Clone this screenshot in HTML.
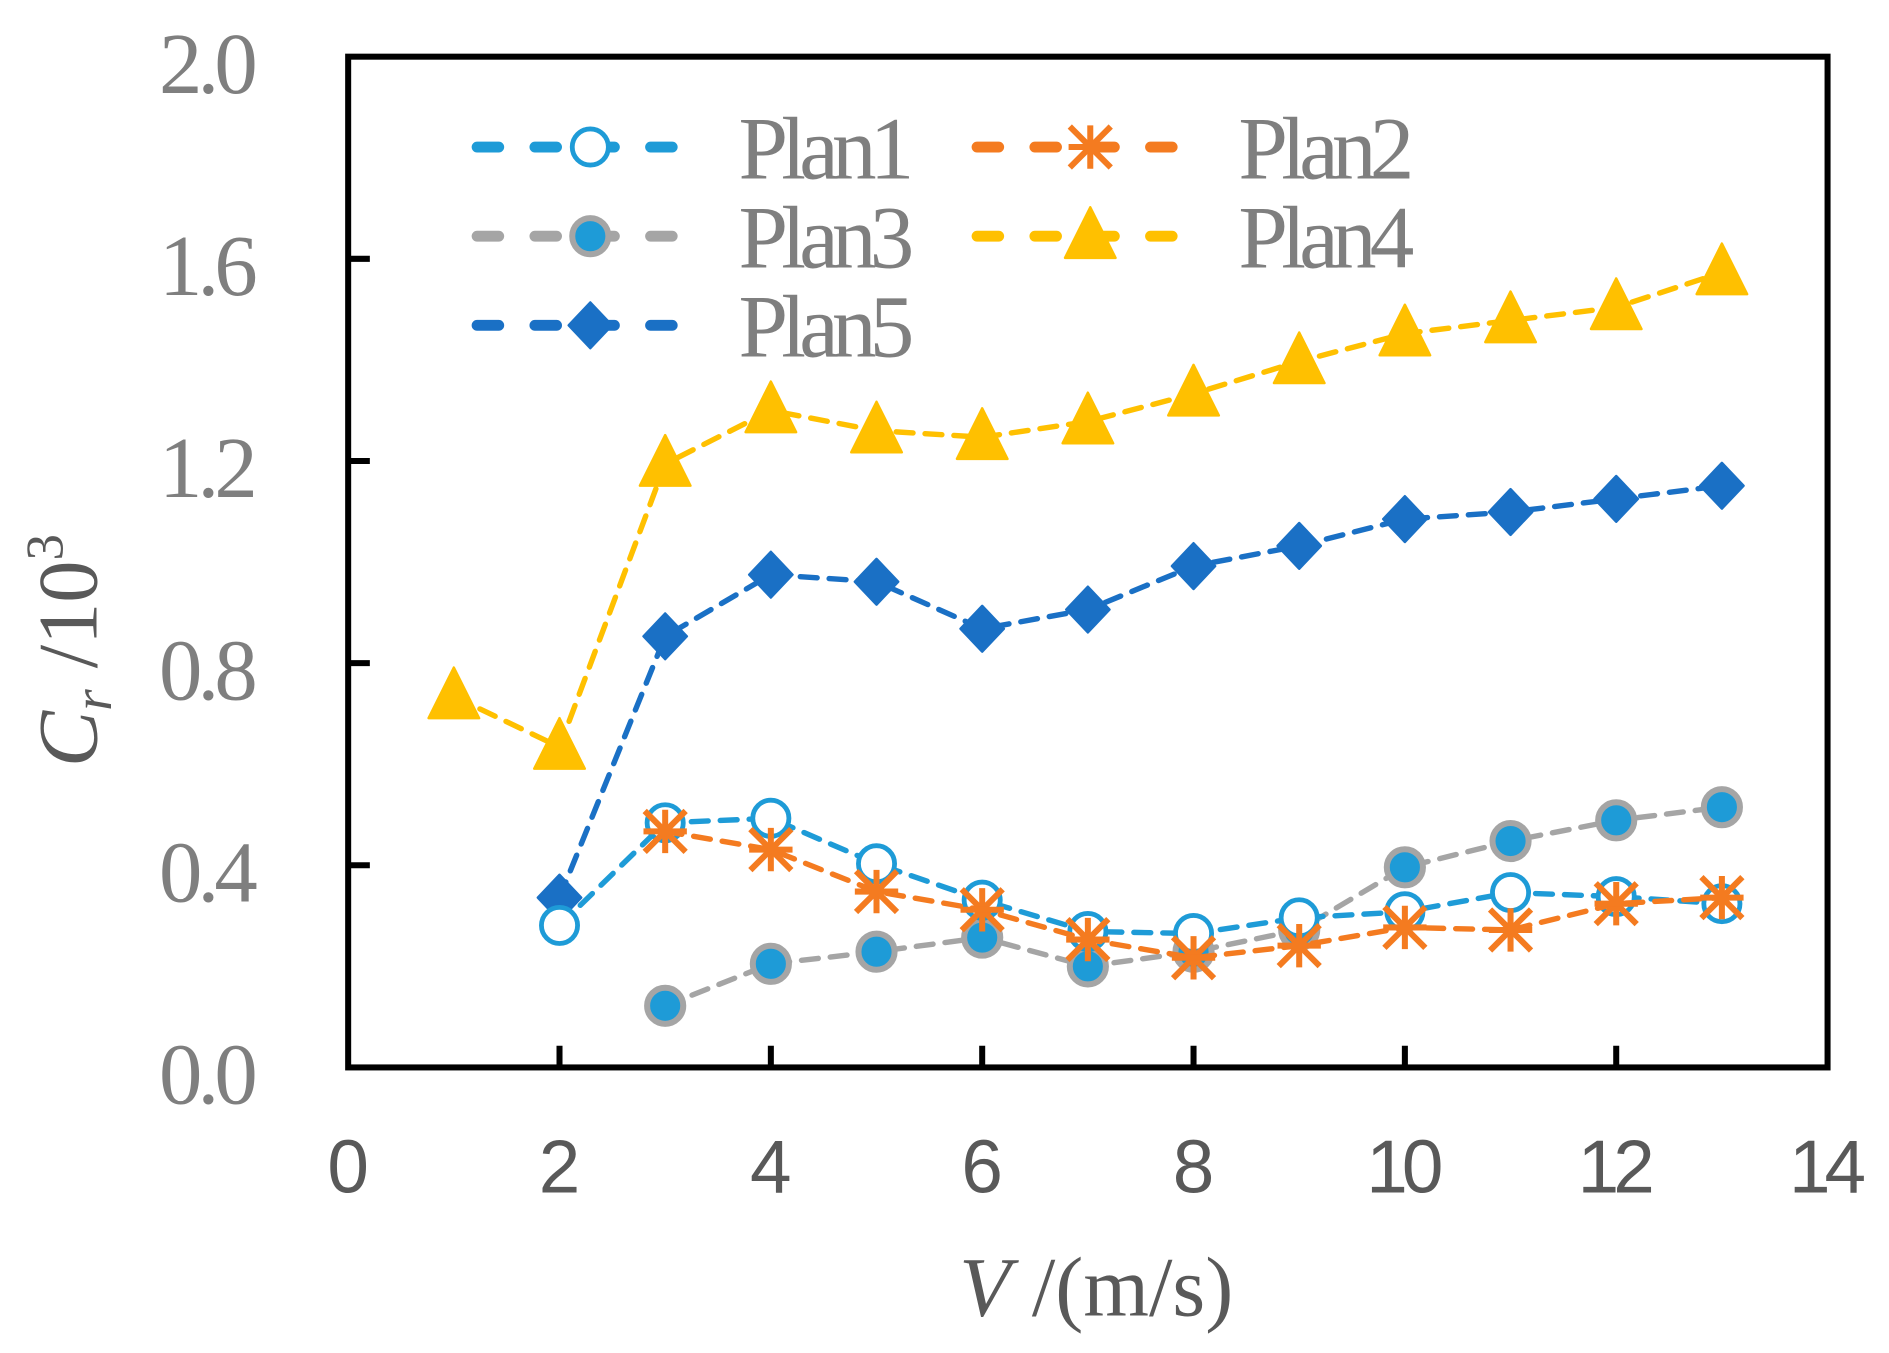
<!DOCTYPE html>
<html><head><meta charset="utf-8"><style>
html,body{margin:0;padding:0;background:#fff;}
svg{display:block;}
</style></head><body>
<svg id="chart" width="1889" height="1353" viewBox="0 0 1568 1123" xmlns="http://www.w3.org/2000/svg">
<rect width="1568" height="1123" fill="#fff"/>
<g id="series"></g>
<rect x="289" y="47" width="1228" height="839" fill="none" stroke="#000" stroke-width="5"/>
<g id="ticks"></g>
<g id="legend"></g>
<text x="910" y="1092" font-family="Liberation Serif, serif" font-size="70" fill="#595959" text-anchor="middle"><tspan font-style="italic">V</tspan> /(m/s)</text>
<text transform="translate(80,540) rotate(-90)" font-family="Liberation Serif, serif" font-size="70" fill="#595959" text-anchor="middle"><tspan font-style="italic">C</tspan><tspan font-style="italic" font-size="46" dy="12">r</tspan><tspan dy="-12"> /10</tspan><tspan font-size="44" dy="-28">3</tspan></text>
</svg>
<script>
const xTicks = [0,2,4,6,8,10,12,14];
const yTicks = [0.0,0.4,0.8,1.2,1.6,2.0];
const yTickLabels = ["0.0","0.4","0.8","1.2","1.6","2.0"];
const plan1X = [2,3,4,5,6,7,8,9,10,11,12,13];
const plan1Y = [0.281,0.484,0.493,0.403,0.331,0.269,0.265,0.296,0.308,0.346,0.338,0.324];
const plan2X = [3,4,5,6,7,8,9,10,11,12,13];
const plan2Y = [0.467,0.431,0.348,0.312,0.253,0.217,0.241,0.277,0.272,0.324,0.336];
const plan3X = [3,4,5,6,7,8,9,10,11,12,13];
const plan3Y = [0.122,0.205,0.229,0.257,0.200,0.229,0.272,0.396,0.448,0.489,0.515];
const plan4X = [1,2,3,4,5,6,7,8,9,10,11,12,13];
const plan4Y = [0.734,0.634,1.194,1.300,1.260,1.247,1.278,1.333,1.397,1.452,1.478,1.504,1.573];
const plan5X = [2,3,4,5,6,7,8,9,10,11,12,13];
const plan5Y = [0.336,0.853,0.975,0.961,0.868,0.906,0.992,1.032,1.085,1.099,1.125,1.151];

const NS="http://www.w3.org/2000/svg";
const X0=289,X1=1517,Y0=886,Y1=47;
const sx=v=>X0+(v-0)/(14-0)*(X1-X0);
const sy=v=>Y0-(v-0)/(2-0)*(Y0-Y1);
function mk(tag,attrs,parent){const e=document.createElementNS(NS,tag);for(const k in attrs)e.setAttribute(k,attrs[k]);parent.appendChild(e);return e;}
const ticks=document.getElementById('ticks');
xTicks.forEach(t=>{
  if(t>0&&t<14){const l=mk('line',{x1:sx(t),x2:sx(t),y1:Y0,y2:Y0-18,stroke:'#000','stroke-width':5},ticks);
  
  }
  const tx=mk('text',{x:sx(t),y:990,'font-family':'Liberation Sans, sans-serif','font-size':62,fill:'#595959','text-anchor':'middle'},ticks);
  
  
  tx.textContent=String(t);
  if(t>=10)tx.setAttribute('textLength','64');
});
yTicks.forEach((t,i)=>{
  if(t>0&&t<2){const l=mk('line',{x1:X0,x2:X0+18,y1:sy(t),y2:sy(t),stroke:'#000','stroke-width':5},ticks);
  
  }
  const tx=mk('text',{x:214,y:sy(t)+30,'font-family':'Liberation Serif, serif','font-size':72,fill:'#7f7f7f','text-anchor':'end',textLength:82},ticks);
  
  
  tx.textContent=yTickLabels[i];
});
function marker(type,cx,cy,color,parent){
  let m;
  if(type==='circle'){m=mk('circle',{cx,cy,r:15,fill:'#fff',stroke:color,'stroke-width':4},parent);}
  else if(type==='star'){m=mk('g',{stroke:color,'stroke-width':5},parent);
    mk('line',{x1:cx,y1:cy-18,x2:cx,y2:cy+18},m);
    mk('line',{x1:cx-17,y1:cy-17,x2:cx+17,y2:cy+17},m);
    mk('line',{x1:cx+17,y1:cy-17,x2:cx-17,y2:cy+17},m);
    mk('line',{x1:cx-18,y1:cy,x2:cx+18,y2:cy},m);}
  else if(type==='filled'){m=mk('circle',{cx,cy,r:15,fill:'#1e9bd7',stroke:'#a5a5a5','stroke-width':5},parent);}
  else if(type==='tri'){m=mk('polygon',{points:`${cx},${cy-24} ${cx+21},${cy+18} ${cx-21},${cy+18}`,fill:color,stroke:color,'stroke-width':2,'stroke-linejoin':'round'},parent);}
  else {m=mk('polygon',{points:`${cx},${cy-19} ${cx+18},${cy} ${cx},${cy+19} ${cx-18},${cy}`,fill:color,stroke:color,'stroke-width':2,'stroke-linejoin':'round'},parent);}
  return m;
}
const series=[
  {n:'plan1',xs:plan1X,ys:plan1Y,c:'#1e9bd7',t:'circle'},
  {n:'plan2',xs:plan2X,ys:plan2Y,c:'#f47b20',t:'star'},
  {n:'plan3',xs:plan3X,ys:plan3Y,c:'#a5a5a5',t:'filled'},
  {n:'plan4',xs:plan4X,ys:plan4Y,c:'#ffc000',t:'tri'},
  {n:'plan5',xs:plan5X,ys:plan5Y,c:'#1a70c5',t:'dia'}
];
const sg=document.getElementById('series');
const order=[3,4,2,0,1];
order.forEach(i=>{const s=series[i];
  const g=mk('g',{},sg);
  
  
  const pts=s.xs.map((x,j)=>sx(x)+','+sy(s.ys[j])).join(' ');
  const pl=mk('polyline',{points:pts,fill:'none',stroke:s.c,'stroke-width':4.5,'stroke-dasharray':'14 10','stroke-linecap':'round'},g);
  
  
  s.xs.forEach((x,j)=>{const m=marker(s.t,sx(x),sy(s.ys[j]),s.c,g);
    
    });
});
const lg=document.getElementById('legend');
const lpos=[[393,122],[808,122],[393,196],[808,196],[393,270]];
series.forEach((s,i)=>{const [lx,ly]=lpos[i];
  const g=mk('g',{},lg);
  
  
  mk('line',{x1:lx+3,x2:lx+185,y1:ly,y2:ly,stroke:s.c,'stroke-width':9,'stroke-dasharray':'18 30','stroke-linecap':'round'},g);
  marker(s.t,lx+97,ly,s.c,g);
  const tx=mk('text',{x:lx+220,y:ly+26,'font-family':'Liberation Serif, serif','font-size':74,fill:'#7f7f7f',textLength:146},g);
  tx.textContent='Plan'+(i+1);
});
</script>
</body></html>
